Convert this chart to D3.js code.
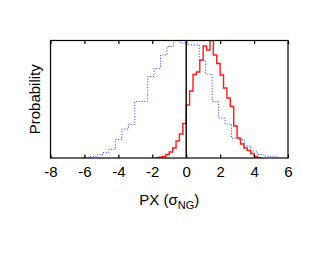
<!DOCTYPE html>
<html>
<head>
<meta charset="utf-8">
<script src="https://cdn.jsdelivr.net/npm/d3@7"></script>
<style>
  html, body { margin: 0; padding: 0; background: #fff; }
  svg { display: block; font-family: "Liberation Sans", Arial, sans-serif; }
</style>
</head>
<body>
<svg id="chart" width="327" height="253"></svg>
<script>
// ---- data ----
const xTicks = [-8, -6, -4, -2, 0, 2, 4, 6];

// blue dotted histogram: first bin edge, bin width, values (relative probability)
const blueStart = -6.07;
const blueWidth = 0.38;
const blueValues = [0.004, 0.013, 0.026, 0.047, 0.074, 0.157, 0.247, 0.285, 0.481, 0.481,
                    0.694, 0.762, 0.877, 0.949, 1.0, 0.979, 0.962, 0.962, 0.830, 0.715,
                    0.479, 0.340, 0.289, 0.168, 0.157, 0.102, 0.060, 0.030, 0.017, 0.014];

// red solid histogram
const redStart = -1.8;
const redWidth = 0.2;
const redValues = [0.003, 0.006, 0.013, 0.030, 0.051, 0.085, 0.145, 0.204, 0.294, 0.451,
                   0.570, 0.711, 0.732, 0.834, 0.953, 0.919, 1.0, 0.877, 0.804, 0.706,
                   0.596, 0.511, 0.438, 0.272, 0.170, 0.119, 0.085, 0.064, 0.038, 0.014, 0.003];

// ---- layout ----
const svg = d3.select("#chart");
const L = 50.5, R = 288, T = 40.5, B = 158;

const x = d3.scaleLinear().domain([-8, 6]).range([L, R]);
const y = d3.scaleLinear().domain([0, 1]).range([B, T]);

const defs = svg.append("defs");
defs.append("clipPath").attr("id", "clip")
  .append("rect").attr("x", L).attr("y", T).attr("width", R - L).attr("height", B - T);

function stepPoints(start, width, values) {
  const pts = [[start, 0]];
  values.forEach((v, i) => {
    pts.push([start + i * width, v]);
    pts.push([start + (i + 1) * width, v]);
  });
  pts.push([start + values.length * width, 0]);
  return pts;
}

const line = d3.line().x(d => x(d[0])).y(d => y(d[1]));

const g = svg.append("g").attr("clip-path", "url(#clip)");

g.append("path")
  .attr("d", line(stepPoints(blueStart, blueWidth, blueValues)))
  .attr("fill", "none")
  .attr("stroke", "#4b4bff")
  .attr("stroke-width", 1)
  .attr("stroke-dasharray", "1.2,1.6");

g.append("path")
  .attr("d", line(stepPoints(redStart, redWidth, redValues)))
  .attr("fill", "none")
  .attr("stroke", "#ff1a1a")
  .attr("stroke-width", 1.4);

// vertical zero line
svg.append("line")
  .attr("x1", x(0)).attr("x2", x(0))
  .attr("y1", T).attr("y2", B)
  .attr("stroke", "#000").attr("stroke-width", 1.4);

// frame
svg.append("rect")
  .attr("x", L).attr("y", T).attr("width", R - L).attr("height", B - T)
  .attr("fill", "none").attr("stroke", "#000").attr("stroke-width", 1.2);

// bottom axis (ticks inward)
const xAxisB = d3.axisBottom(x).tickValues(xTicks).tickSize(-3.5).tickPadding(8)
  .tickFormat(d3.format("d"));
const gb = svg.append("g").attr("transform", `translate(0,${B})`).call(xAxisB);
gb.select(".domain").remove();
gb.selectAll(".tick line").attr("stroke", "#000").attr("stroke-width", 1.2);
gb.selectAll(".tick text")
  .attr("font-size", 15)
  .attr("fill", "#000")
  .attr("font-family", "Liberation Sans, Arial, sans-serif")
  .text(d => d < 0 ? "-" + Math.abs(d) : String(d));

// top ticks (inward)
const xAxisT = d3.axisTop(x).tickValues(xTicks).tickSize(-3.5).tickFormat("");
const gt = svg.append("g").attr("transform", `translate(0,${T})`).call(xAxisT);
gt.select(".domain").remove();
gt.selectAll(".tick line").attr("stroke", "#000").attr("stroke-width", 1.2);

// x label
const xl = svg.append("text")
  .attr("x", (L + R) / 2)
  .attr("y", 205)
  .attr("text-anchor", "middle")
  .attr("font-size", 15)
  .attr("fill", "#000");
xl.append("tspan").text("PX (σ");
xl.append("tspan").attr("font-size", 11).attr("dy", 4).text("NG");
xl.append("tspan").attr("dy", -4).text(")");

// y label
svg.append("text")
  .attr("transform", `translate(40,${(T + B) / 2}) rotate(-90)`)
  .attr("text-anchor", "middle")
  .attr("font-size", 15)
  .attr("fill", "#000")
  .text("Probability");
</script>
</body>
</html>
